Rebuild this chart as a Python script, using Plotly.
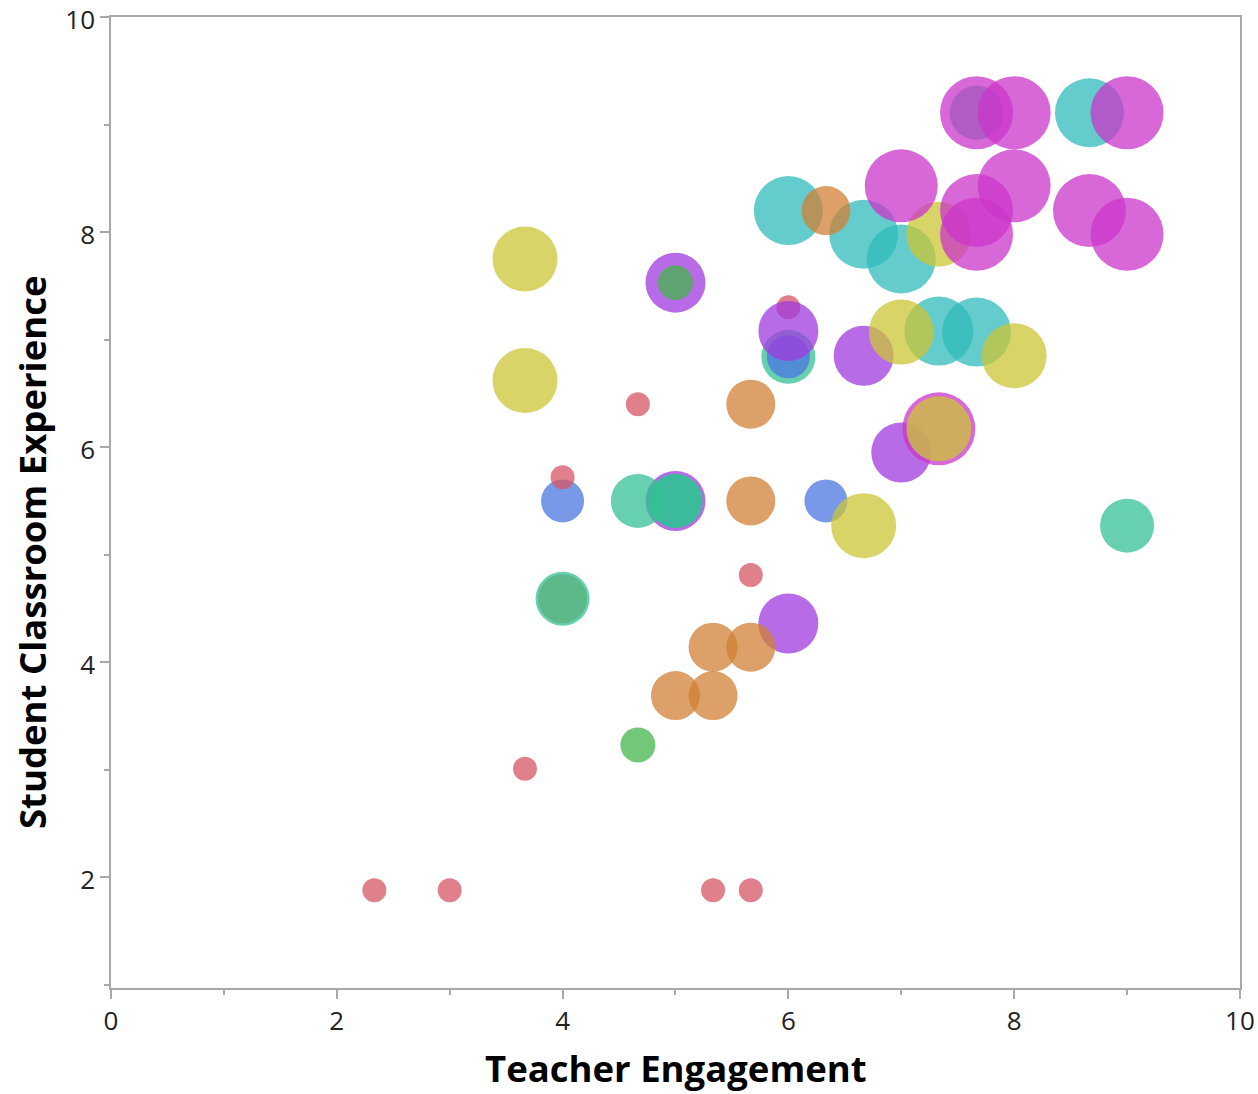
import plotly.graph_objects as go

# ---- data (draw order: first drawn at the bottom) ----
level = [
    "8", "8", "8", "8", "8", "8",
    "4",
    "6",
    "5", "5", "5", "5", "5", "5", "5",
    "3", "3", "3",
    "1", "1", "1", "1", "1", "1", "1", "1", "1",
    "6", "6", "6", "6", "6",
    "2", "2",
    "4", "4", "4", "4", "4", "4", "4",
    "9",
    "7", "7", "7", "7", "7", "7", "7",
    "9", "9", "9", "9", "9", "9", "9", "9", "9",
]
teacher_engagement = [
    8.667, 6.0, 6.667, 7.0, 7.333, 7.667,
    4.0,
    5.0,
    7.667, 6.0, 4.667, 5.0, 5.0, 9.0, 4.0,
    6.0, 4.0, 6.333,
    6.0, 4.667, 4.0, 5.667, 3.667, 2.333, 3.0, 5.333, 5.667,
    5.0, 6.0, 6.667, 7.0, 6.0,
    5.0, 4.667,
    6.333, 5.667, 5.667, 5.333, 5.667, 5.0, 5.333,
    7.333,
    3.667, 3.667, 7.333, 7.0, 8.0, 7.333, 6.667,
    7.667, 8.0, 9.0, 7.0, 8.0, 7.667, 8.667, 7.667, 9.0,
]
student_experience = [
    9.11, 8.20, 7.98, 7.75, 7.08, 7.07,
    4.59,
    5.50,
    9.11, 6.84, 5.50, 5.50, 5.50, 5.27, 4.59,
    6.84, 5.50, 5.50,
    7.30, 6.40, 5.72, 4.81, 3.01, 1.88, 1.88, 1.88, 1.88,
    7.53, 7.08, 6.85, 5.95, 4.36,
    7.53, 3.23,
    8.20, 6.40, 5.50, 4.14, 4.14, 3.69, 3.69,
    6.17,
    7.75, 6.62, 7.98, 7.07, 6.85, 6.17, 5.27,
    9.11, 9.11, 9.11, 8.43, 8.43, 8.20, 8.20, 7.98, 7.98,
]
x_ticks = [0, 2, 4, 6, 8, 10]
y_ticks = [2, 4, 6, 8, 10]

# ---- styles ----
colors = {
    "1": "#d55563", "2": "#43b54b", "3": "#4b75e0", "4": "#d08035",
    "5": "#33c095", "6": "#a039dd", "7": "#cbc535", "8": "#30bbbb",
    "9": "#cb35cb",
}
sizes = {
    "1": 24, "2": 35, "3": 43, "4": 49, "5": 54, "6": 60, "7": 65,
    "8": 69, "9": 73,
}

fig = go.Figure()
fig.add_trace(go.Scatter(
    x=teacher_engagement, y=student_experience, mode="markers",
    marker=dict(color=[colors[l] for l in level],
                size=[sizes[l] for l in level],
                opacity=0.75, line=dict(width=0)),
    showlegend=False,
))

axis_common = dict(
    showline=True, linecolor="#a8a8a8", linewidth=1.5, mirror=True,
    showgrid=False, zeroline=False, automargin=False,
    ticks="outside", ticklen=9, tickwidth=1.5, tickcolor="#a8a8a8",
    tickfont=dict(family="Open Sans", size=26, color="#222222"),
    ticklabeloverflow="allow",
    minor=dict(ticks="outside", ticklen=5, tickwidth=1.5,
               tickcolor="#a8a8a8", dtick=1, showgrid=False),
)
fig.update_xaxes(range=[0, 10.0005], tickvals=x_ticks, **axis_common)
fig.update_yaxes(range=[0.97, 10.0005], tickvals=y_ticks,
                 ticklabelshift=3, **axis_common)

title_font = dict(family="Open Sans", size=36.5, color="black")
fig.update_layout(
    width=1258, height=1094,
    margin=dict(l=111, r=18, t=17, b=106, autoexpand=False),
    plot_bgcolor="white", paper_bgcolor="white",
    annotations=[
        dict(text="<b>Teacher Engagement</b>", xref="paper", yref="paper",
             x=0.5, y=-0.0824, xanchor="center", yanchor="middle",
             showarrow=False, font=title_font),
        dict(text="<b>Student Classroom Experience</b>", xref="paper",
             yref="paper", x=-0.0700, y=0.449, xanchor="center",
             yanchor="middle", textangle=-90, showarrow=False,
             font=title_font),
    ],
)

fig.write_html("out.html",
               config={"displayModeBar": False},
               post_script="document.body.style.margin='0';"
                           "document.body.style.overflow='hidden';")
